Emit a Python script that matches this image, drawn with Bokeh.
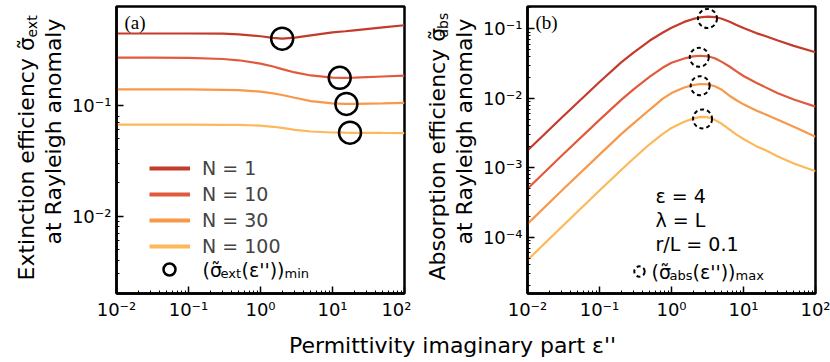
import numpy as np
from bokeh.plotting import figure
from bokeh.models import FixedTicker, Label, Legend, LegendItem, Range1d
from bokeh.layouts import column, row
from bokeh.embed import file_html
from bokeh.resources import INLINE

# ---------------- data ----------------
n_labels = ["N = 1", "N = 10", "N = 30", "N = 100"]
colors = ["#c43b2b", "#e15a3c", "#f8984a", "#fdb85a"]

# panel (a): extinction efficiency
eps_ext = [0.01, 0.03, 0.1, 0.3, 0.5, 1, 1.5, 2, 3, 5, 10, 15, 20, 50, 100]
ext_N1 = [0.445, 0.445, 0.445, 0.443, 0.437, 0.420, 0.407, 0.400, 0.408, 0.428, 0.455, 0.466, 0.475, 0.505, 0.528]
ext_N10 = [0.270, 0.270, 0.268, 0.262, 0.255, 0.238, 0.224, 0.212, 0.198, 0.186, 0.178, 0.177, 0.178, 0.182, 0.185]
ext_N30 = [0.139, 0.139, 0.139, 0.138, 0.137, 0.133, 0.128, 0.124, 0.117, 0.109, 0.104, 0.103, 0.103, 0.104, 0.105]
ext_N100 = [0.0668, 0.0668, 0.0668, 0.0667, 0.0666, 0.0655, 0.064, 0.0625, 0.060, 0.058, 0.0568, 0.0566, 0.0565, 0.0563, 0.0562]
ext_min_eps = [2.0, 12.6, 15.6, 17.5]
ext_min_val = [0.400, 0.177, 0.103, 0.0566]

# panel (b): absorption efficiency
eps_abs = [0.01, 0.03, 0.1, 0.2, 0.3, 0.5, 0.75, 1, 1.5, 2, 2.5, 3.2, 4, 5, 6.3, 8, 10, 15, 20, 30, 50, 100]
abs_N1 = [1.77e-3, 5.3e-3, 0.0172, 0.033, 0.046, 0.068, 0.088, 0.104, 0.126, 0.139, 0.146, 0.150, 0.148, 0.140,
          0.128, 0.114, 0.103, 0.087, 0.079, 0.068, 0.057, 0.046]
abs_N10 = [5.0e-4, 1.5e-3, 4.9e-3, 9.5e-3, 0.0136, 0.0205, 0.0275, 0.0325, 0.0375, 0.0402, 0.0410, 0.0403, 0.0378,
           0.0335, 0.0290, 0.0245, 0.0210, 0.0168, 0.0145, 0.0118, 0.0096, 0.0076]
abs_N30 = [1.56e-4, 4.7e-4, 1.55e-3, 3.05e-3, 4.4e-3, 6.9e-3, 9.8e-3, 0.0119, 0.0143, 0.0155, 0.0161, 0.0159, 0.0149,
           0.0133, 0.0110, 0.0094, 0.0082, 0.0067, 0.0059, 0.0049, 0.0039, 0.0028]
abs_N100 = [4.7e-5, 1.42e-4, 4.7e-4, 9.3e-4, 1.37e-3, 2.2e-3, 3.05e-3, 3.75e-3, 4.6e-3, 5.1e-3, 5.4e-3, 5.35e-3, 4.9e-3,
            4.3e-3, 3.6e-3, 3.0e-3, 2.6e-3, 2.05e-3, 1.8e-3, 1.45e-3, 1.15e-3, 8.9e-4]
abs_max_eps = [3.16, 2.43, 2.5, 2.7]
abs_max_val = [0.141, 0.039, 0.0152, 0.00506]

x_tick_values = [0.01, 0.1, 1, 10, 100]
x_tick_labels = ["10⁻²", "10⁻¹", "10⁰", "10¹", "10²"]
ya_tick_values = [0.01, 0.1]
ya_tick_labels = ["10⁻²", "10⁻¹"]
yb_tick_values = [1e-4, 1e-3, 1e-2, 1e-1]
yb_tick_labels = ["10⁻⁴", "10⁻³", "10⁻²", "10⁻¹"]

FONT = "DejaVu Sans"
SERIF = "Liberation Serif"
LAB_W = 68      # width of the strip that carries the rotated y titles
AX_W = 47       # left border of each panel (tick labels)


def minor(lo_exp, hi_exp):
    return [k * 10.0 ** e for e in range(lo_exp, hi_exp) for k in range(2, 10)]


def make_fig(right_border, yr, yticks, ylabels, yminor):
    p = figure(frame_width=288, frame_height=287, x_axis_type="log", y_axis_type="log",
               x_range=Range1d(0.01, 100), y_range=Range1d(*yr),
               output_backend="svg", toolbar_location=None, title=None,
               min_border_left=AX_W, min_border_right=right_border,
               min_border_top=6, min_border_bottom=37)
    p.grid.visible = False
    p.outline_line_color = "black"
    p.outline_line_width = 2.5
    p.outline_line_alpha = 1
    p.xaxis.ticker = FixedTicker(ticks=x_tick_values, minor_ticks=minor(-2, 2))
    p.xaxis.major_label_overrides = dict(zip(x_tick_values, x_tick_labels))
    p.yaxis.ticker = FixedTicker(ticks=yticks, minor_ticks=yminor)
    p.yaxis.major_label_overrides = dict(zip(yticks, ylabels))
    for ax in (p.xaxis[0], p.yaxis[0]):
        ax.axis_line_width = 2.5
        ax.major_tick_in = 7
        ax.major_tick_out = 0
        ax.minor_tick_in = 3
        ax.minor_tick_out = 0
        ax.major_tick_line_width = 1.5
        ax.minor_tick_line_width = 1
        ax.major_label_text_font = FONT
        ax.major_label_text_font_size = "18px"
        ax.major_label_text_color = "black"
    p.xaxis.major_label_standoff = 5
    p.yaxis.major_label_standoff = 5
    return p


def label_fig():
    q = figure(width=LAB_W, height=330, x_range=Range1d(0, 1), y_range=Range1d(0, 1),
               output_backend="svg", toolbar_location=None, title=None,
               min_border=0, min_border_left=0, min_border_right=0,
               min_border_top=0, min_border_bottom=0)
    q.axis.visible = False
    q.grid.visible = False
    q.outline_line_color = None
    return q


def txt(p, x, y, text, size="19px", font=FONT, align="left", angle=0.0):
    p.add_layout(Label(x=x, y=y, x_units="screen", y_units="screen", text=text,
                       text_font=font, text_font_size=size, text_color="black",
                       text_align=align, text_baseline="middle", angle=angle))


def line_legend(p, xs, series, loc):
    # one-point lines draw nothing; they only carry the thicker legend swatch
    swatches = [p.line(x=xs[:1], y=v[:1], line_color=c, line_width=4) for v, c in zip(series, colors)]
    leg = Legend(items=[LegendItem(label=l, renderers=[r]) for l, r in zip(n_labels, swatches)],
                 location=loc, glyph_width=41, glyph_height=20, label_height=20, spacing=4,
                 padding=0, margin=0, label_standoff=12, label_text_font=FONT,
                 label_text_font_size="19px", background_fill_alpha=0, border_line_alpha=0)
    p.add_layout(leg)


def marker_legend(p, r, loc, box):
    leg = Legend(items=[LegendItem(label=" ", renderers=[r])], location=loc,
                 glyph_width=box, glyph_height=box, label_height=20, padding=0, margin=0,
                 label_standoff=0, label_text_font_size="1px", background_fill_alpha=0,
                 border_line_alpha=0)
    p.add_layout(leg)


# ---------------- panel (a) ----------------
ext_series = [ext_N1, ext_N10, ext_N30, ext_N100]
pa = make_fig(7, (0.002, 0.78), ya_tick_values, ya_tick_labels, minor(-3, 0)[1:15])
for vals, c in zip(ext_series, colors):
    pa.line(eps_ext, vals, line_color=c, line_width=2.2)
circ_a = pa.scatter(ext_min_eps, ext_min_val, marker="circle", size=22, fill_color=None,
                    line_color="black", line_width=2.5)
line_legend(pa, eps_ext, ext_series, (33, 36))
marker_legend(pa, circ_a, (38, 9), 30)
txt(pa, 86, 24, "(σ̃")
txt(pa, 104, 20, "ext", size="13px")
txt(pa, 125, 24, "(ε''))")
txt(pa, 168, 20, "min", size="13px")
txt(pa, 8, 271, "(a)", size="19px", font=SERIF)

# the strip's frame is aligned with the panel frame (bottom at y=293 of the picture)
la = label_fig()
txt(la, 26, 13, "Extinction efficiency σ̃", size="22px", angle=np.pi / 2)
txt(la, 31, 256, "ext", size="14px", angle=np.pi / 2)
txt(la, 53, 162, "at Rayleigh anomaly", size="22px", align="center", angle=np.pi / 2)

# ---------------- panel (b) ----------------
abs_series = [abs_N1, abs_N10, abs_N30, abs_N100]
pb = make_fig(17, (1.55e-5, 0.21), yb_tick_values, yb_tick_labels, minor(-5, 0)[:35])
for vals, c in zip(abs_series, colors):
    pb.line(eps_abs, vals, line_color=c, line_width=2.2)
circ_b = pb.scatter(abs_max_eps, abs_max_val, marker="circle", size=19, fill_color=None,
                    line_color="black", line_width=2, line_dash="4 3")
marker_legend(pb, circ_b, (99, 9), 26)
txt(pb, 8, 271, "(b)", size="19px", font=SERIF)
txt(pb, 128, 98, "ε = 4")
txt(pb, 128, 74, "λ = L")
txt(pb, 128, 50, "r/L = 0.1")
txt(pb, 124, 22, "(σ̃")
txt(pb, 142, 18, "abs", size="13px")
txt(pb, 165, 22, "(ε''))")
txt(pb, 208, 18, "max", size="13px")

lb = label_fig()
txt(lb, 26, 13, "Absorption efficiency σ̃", size="22px", angle=np.pi / 2)
txt(lb, 31, 256, "abs", size="14px", angle=np.pi / 2)
txt(lb, 53, 162, "at Rayleigh anomaly", size="22px", align="center", angle=np.pi / 2)

# ---------------- shared x label ----------------
pc = figure(width=830, height=32, x_range=Range1d(0, 1), y_range=Range1d(0, 1),
            output_backend="svg", toolbar_location=None, title=None,
            min_border=0, min_border_left=0, min_border_right=0, min_border_top=0, min_border_bottom=0)
pc.axis.visible = False
pc.grid.visible = False
pc.outline_line_color = None
txt(pc, 452, 17, "Permittivity imaginary part ε''", size="22px", align="center")

layout = column(row(la, pa, lb, pb, spacing=0), pc, spacing=0)
open("out.html", "w").write(file_html(layout, INLINE))
